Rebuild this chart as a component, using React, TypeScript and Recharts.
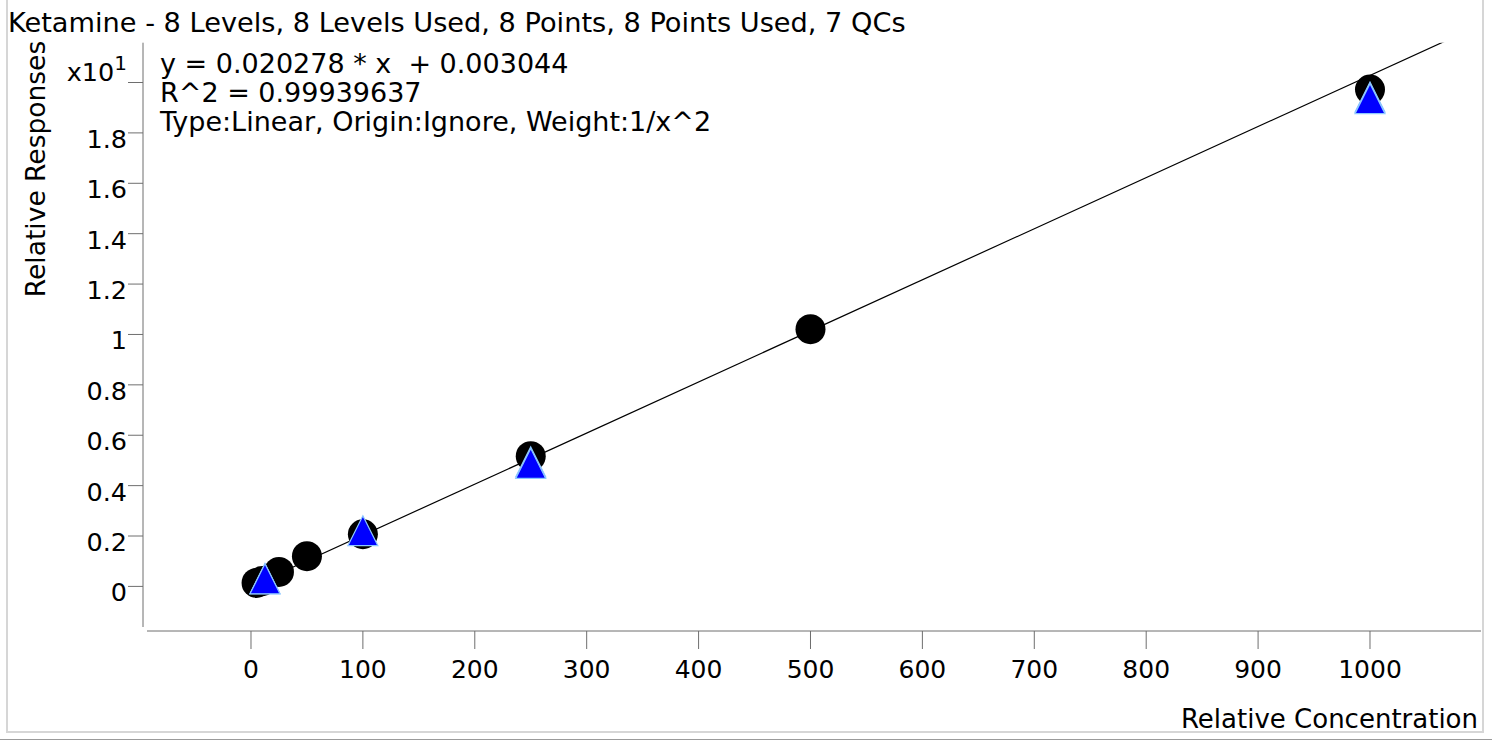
import React from 'react';
import { ScatterChart, Scatter, XAxis, YAxis } from 'recharts';

const FONT = '"DejaVu Sans", Verdana, sans-serif';

// Calibration levels (concentration, response)
const levelConc = [5, 10, 25, 50, 100, 250, 500, 1000];
const levelResp = [0.14, 0.21, 0.575, 1.2, 2.07, 5.17, 10.21, 19.72];

// QC samples
const qcConc = [12.5, 12.5, 100, 250, 250, 1000, 1000];
const qcResp = [0.31, 0.3, 2.21, 4.94, 4.88, 19.42, 19.36];

// Regression fit
const fitSlope = 0.020278;
const fitIntercept = 0.003044;
const fitXRange = [0, 1099];

const xTicks = [0, 100, 200, 300, 400, 500, 600, 700, 800, 900, 1000];
const yTicks = [0, 2, 4, 6, 8, 10, 12, 14, 16, 18, 20];
const xDomain: [number, number] = [-96.5, 1099.2];
const yDomain: [number, number] = [-1.77, 21.58];

const titleText = 'Ketamine - 8 Levels, 8 Levels Used, 8 Points, 8 Points Used, 7 QCs';
const annotationLines = [
  'y = 0.020278 * x  + 0.003044',
  'R^2 = 0.99939637',
  'Type:Linear, Origin:Ignore, Weight:1/x^2',
];
const xLabel = 'Relative Concentration';
const yLabel = 'Relative Responses';

const levelData = levelConc.map((x, i) => ({ x, y: levelResp[i] }));
const qcData = qcConc.map((x, i) => ({ x, y: qcResp[i] }));
const fitData = fitXRange.map((x) => ({ x, y: fitSlope * x + fitIntercept }));

const AXIS_COLOR = '#6e6e6e';

const Circle = (p: any) => <circle cx={p.cx} cy={p.cy} r={15} fill="#000" />;
const Triangle = (p: any) => {
  const h = 30;
  const w = 30;
  const { cx, cy } = p;
  return (
    <path
      d={`M${cx},${cy - h / 2} L${cx + w / 2},${cy + h / 2} L${cx - w / 2},${cy + h / 2} Z`}
      fill="#0000ff"
      stroke="#8ec8ff"
      strokeWidth={1.2}
    />
  );
};

const YTick = (p: any) => {
  const v = p.payload.value;
  if (v === 20) {
    return (
      <text x={p.x} y={p.y - 2} textAnchor="end" fontSize={25.5} fontFamily={FONT} fill="#000">
        x10
        <tspan dy={-11} fontSize={20}>1</tspan>
      </text>
    );
  }
  return (
    <text x={p.x} y={p.y + 15} textAnchor="end" fontSize={25.5} fontFamily={FONT} fill="#000">
      {String(Math.round(v) / 10)}
    </text>
  );
};

export default function App() {
  return (
    <div style={{ position: 'absolute', left: 0, top: 0, width: 1492, height: 740, background: '#fff', overflow: 'hidden' }}>
      <div
        style={{
          position: 'absolute',
          left: 6,
          top: -3,
          width: 1478,
          height: 736,
          border: '2px solid #d6d6d6',
          boxSizing: 'border-box',
        }}
      />
      <div style={{ position: 'absolute', left: 0, top: 739, width: 1492, height: 1, background: '#9a9a9a' }} />
      <div style={{ position: 'absolute', left: 0, top: 0 }}>
        <ScatterChart width={1492} height={740} margin={{ top: 42.7, right: 11, bottom: 9, left: 83 }}>
          <XAxis
            type="number"
            dataKey="x"
            domain={xDomain}
            allowDataOverflow
            ticks={xTicks}
            tickSize={18}
            tickMargin={11}
            height={100}
            axisLine={{ stroke: AXIS_COLOR, strokeDasharray: '0 4 1334 20' }}
            tickLine={{ stroke: AXIS_COLOR }}
            tick={{ fontSize: 25, fill: '#000', fontFamily: FONT }}
            label={{
              value: xLabel,
              position: 'insideBottomRight',
              offset: 3,
              fontSize: 26,
              fill: '#000',
              fontFamily: FONT,
            }}
          />
          <YAxis
            type="number"
            dataKey="y"
            domain={yDomain}
            allowDataOverflow
            ticks={yTicks}
            tickSize={15}
            tickMargin={1}
            width={60}
            axisLine={{ stroke: AXIS_COLOR, strokeDasharray: '584.3 100' }}
            tickLine={{ stroke: AXIS_COLOR }}
            tick={<YTick />}
          />
          <Scatter
            data={fitData}
            line={{ stroke: '#000', strokeWidth: 1.2 }}
            shape={() => null}
            isAnimationActive={false}
          />
          <Scatter data={levelData} shape={Circle} isAnimationActive={false} />
          <Scatter data={qcData} shape={Triangle} isAnimationActive={false} />
        </ScatterChart>
      </div>
      <svg
        width={1492}
        height={740}
        style={{ position: 'absolute', left: 0, top: 0, pointerEvents: 'none' }}
      >
        <text x={8} y={32} fontSize={27.2} fontFamily={FONT} fill="#000">
          {titleText}
        </text>
        {annotationLines.map((t, i) => (
          <text
            key={i}
            x={160}
            y={73 + i * 29}
            fontSize={27}
            fontFamily={FONT}
            fill="#000"
            style={{ whiteSpace: 'pre' }}
          >
            {t}
          </text>
        ))}
        <text
          transform="translate(45,169) rotate(-90)"
          textAnchor="middle"
          fontSize={26.5}
          fontFamily={FONT}
          fill="#000"
        >
          {yLabel}
        </text>
      </svg>
    </div>
  );
}
